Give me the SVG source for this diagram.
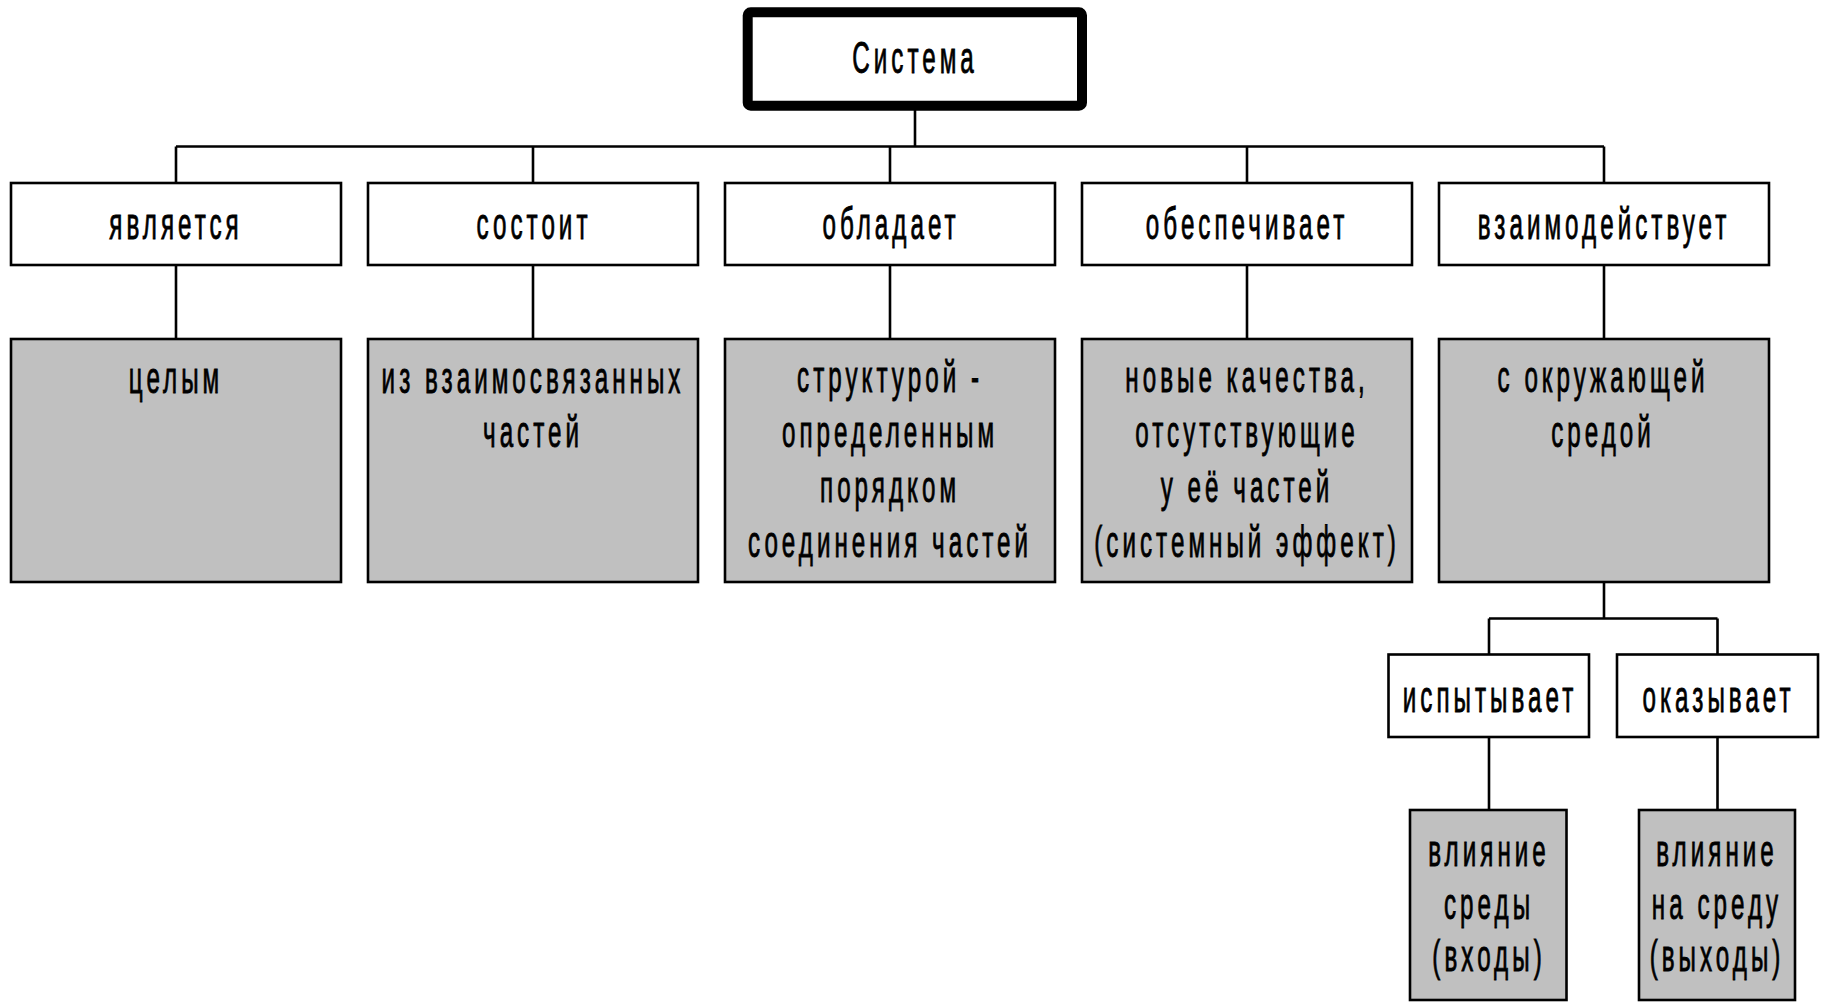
<svg xmlns="http://www.w3.org/2000/svg" width="1824" height="1002" viewBox="0 0 1824 1002">
<style>
.bx{fill:#ffffff;stroke:#000000;stroke-width:2.6}
.gr{fill:#c0c0c0;stroke:#000000;stroke-width:2.6}
.main{fill:#ffffff;stroke:#000000;stroke-width:10}
.ln{fill:none;stroke:#000000;stroke-width:2.6}
.t{font-family:"Liberation Sans",Arial,sans-serif;font-size:44px;letter-spacing:7.3px;text-anchor:middle;fill:#000000;stroke:#000000;stroke-width:0.9px}
</style>
<rect width="1824" height="1002" fill="#ffffff"/>
<g id="connectors">
<path class="ln" d="M915 110V146.5M176 146.5H1604M176 146.5V183M533 146.5V183M890 146.5V183M1247 146.5V183M1604 146.5V183"/>
<path class="ln" d="M176 265V339M533 265V339M890 265V339M1247 265V339M1604 265V339"/>
<path class="ln" d="M1604 582V618.5M1489 618.5H1717.5M1489 618.5V654.5M1717.5 618.5V654.5M1489 737V810M1717.5 737V810"/>
</g>
<g id="sistema">
<rect class="main" x="747.7" y="12.3" width="334.3" height="93.4" rx="3"/>
<text class="t" x="3.7" transform="translate(913,73) scale(0.55,1)">Система</text>
</g>
<g id="n1">
<rect class="bx" x="11" y="183" width="330" height="82"/>
<text class="t" x="3.7" transform="translate(174,239) scale(0.55,1)">является</text>
</g>
<g id="n2">
<rect class="bx" x="368" y="183" width="330" height="82"/>
<text class="t" x="3.7" transform="translate(532,239) scale(0.55,1)">состоит</text>
</g>
<g id="n3">
<rect class="bx" x="725" y="183" width="330" height="82"/>
<text class="t" x="3.7" transform="translate(889,239) scale(0.55,1)">обладает</text>
</g>
<g id="n4">
<rect class="bx" x="1082" y="183" width="330" height="82"/>
<text class="t" x="3.7" transform="translate(1245,239) scale(0.55,1)">обеспечивает</text>
</g>
<g id="n5">
<rect class="bx" x="1439" y="183" width="330" height="82"/>
<text class="t" x="3.7" transform="translate(1602,239) scale(0.55,1)">взаимодействует</text>
</g>
<g id="g1">
<rect class="gr" x="11" y="339" width="330" height="243"/>
<text class="t" x="3.7" transform="translate(174,393) scale(0.55,1)">целым</text>
</g>
<g id="g2">
<rect class="gr" x="368" y="339" width="330" height="243"/>
<text class="t" x="3.7" transform="translate(531,393) scale(0.55,1)">из взаимосвязанных</text>
<text class="t" x="3.7" transform="translate(531,447) scale(0.55,1)">частей</text>
</g>
<g id="g3">
<rect class="gr" x="725" y="339" width="330" height="243"/>
<text class="t" x="3.7" transform="translate(888,392) scale(0.55,1)">структурой -</text>
<text class="t" x="3.7" transform="translate(888,447) scale(0.55,1)">определенным</text>
<text class="t" x="3.7" transform="translate(888,502) scale(0.55,1)">порядком</text>
<text class="t" x="3.7" transform="translate(888,557) scale(0.55,1)">соединения частей</text>
</g>
<g id="g4">
<rect class="gr" x="1082" y="339" width="330" height="243"/>
<text class="t" x="3.7" transform="translate(1245,392) scale(0.55,1)">новые качества,</text>
<text class="t" x="3.7" transform="translate(1245,447) scale(0.55,1)">отсутствующие</text>
<text class="t" x="3.7" transform="translate(1245,502) scale(0.55,1)">у её частей</text>
<text class="t" x="3.7" transform="translate(1245,557) scale(0.55,1)">(системный эффект)</text>
</g>
<g id="g5">
<rect class="gr" x="1439" y="339" width="330" height="243"/>
<text class="t" x="3.7" transform="translate(1601,392) scale(0.55,1)">с окружающей</text>
<text class="t" x="3.7" transform="translate(1601,447) scale(0.55,1)">средой</text>
</g>
<g id="s1">
<rect class="bx" x="1388.5" y="654.5" width="200.5" height="82.5"/>
<text class="t" x="3.7" transform="translate(1488,711.5) scale(0.55,1)">испытывает</text>
</g>
<g id="s2">
<rect class="bx" x="1617" y="654.5" width="201" height="82.5"/>
<text class="t" x="3.7" transform="translate(1716.5,711.5) scale(0.55,1)">оказывает</text>
</g>
<g id="s3">
<rect class="gr" x="1410" y="810" width="156.5" height="190"/>
<text class="t" x="3.7" transform="translate(1487,866) scale(0.55,1)">влияние</text>
<text class="t" x="3.7" transform="translate(1487,918.5) scale(0.55,1)">среды</text>
<text class="t" x="3.7" transform="translate(1487,971) scale(0.55,1)">(входы)</text>
</g>
<g id="s4">
<rect class="gr" x="1639" y="810" width="156" height="190"/>
<text class="t" x="3.7" transform="translate(1715,866) scale(0.55,1)">влияние</text>
<text class="t" x="3.7" transform="translate(1715,918.5) scale(0.55,1)">на среду</text>
<text class="t" x="3.7" transform="translate(1715,971) scale(0.55,1)">(выходы)</text>
</g>
</svg>
